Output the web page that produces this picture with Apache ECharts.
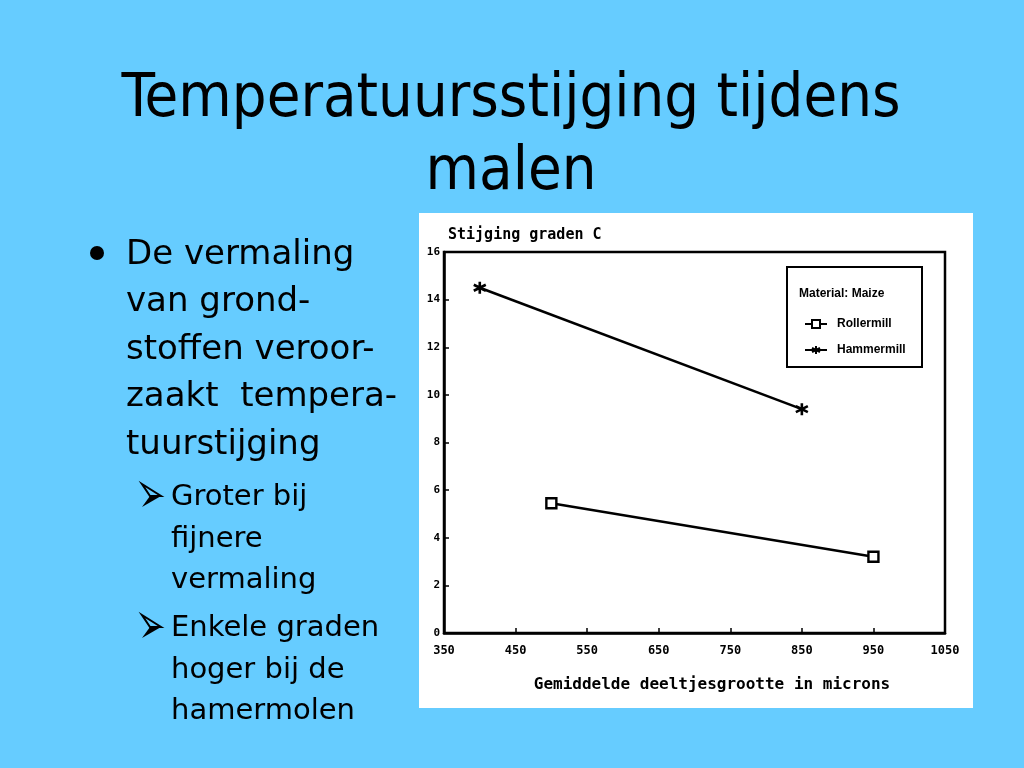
<!DOCTYPE html>
<html><head><meta charset="utf-8">
<script src="https://cdn.jsdelivr.net/npm/echarts@6/dist/echarts.min.js"></script>
<style>html,body{margin:0;padding:0;background:#66CCFF}#c{width:1024px;height:768px}</style>
</head><body><div id="c"></div>
<script>
// ---- data ----
const titleLines = ['Temperatuursstijging tijdens', 'malen'];
const bulletLines = ['De vermaling', 'van grond-', 'stoffen veroor-', 'zaakt  tempera-', 'tuurstijging'];
const sub1Lines = ['Groter bij', 'fijnere', 'vermaling'];
const sub2Lines = ['Enkele graden', 'hoger bij de', 'hamermolen'];
const yAxisTitle = 'Stijging graden C';
const xAxisTitle = 'Gemiddelde deeltjesgrootte in microns';
const legendTitle = 'Material: Maize';
const seriesNames = ['Rollermill', 'Hammermill'];
const xRange = [350, 1050, 100];   // min, max, step
const yRange = [0, 16, 2];
const rollerX = [500, 950];
const rollerY = [5.45, 3.2];
const hammerX = [400, 850];
const hammerY = [14.5, 9.4];

const zip = (a, b) => a.map((v, i) => [v, b[i]]);
const mono = '"DejaVu Sans Mono", monospace';

function arrowBullet(cy) {
  const x0 = 142, tip = 161, notch = 150;
  return [
    {type: 'polygon', silent: true, shape: {points: [[x0, cy + 11], [tip, cy], [notch, cy]]}, style: {fill: '#000'}},
    {type: 'polygon', silent: true, shape: {points: [[x0, cy - 12], [tip, cy], [notch, cy]]}, style: {fill: 'none', stroke: '#000', lineWidth: 2, lineJoin: 'miter'}}
  ];
}

const chart = echarts.init(document.getElementById('c'), null, {renderer: 'canvas'});
const axisCommon = {
  axisLine: {show: true, onZero: false, lineStyle: {color: '#000', width: 2.5}},
  axisTick: {show: true, inside: true, length: 5, lineStyle: {color: '#000', width: 1.5}},
  splitLine: {show: false}
};
chart.setOption({
  animation: false,
  backgroundColor: '#66CCFF',
  grid: {left: 444, top: 252, width: 501, height: 381, show: true, borderColor: '#000', borderWidth: 2.5, backgroundColor: '#fff'},
  xAxis: Object.assign({
    type: 'value', min: xRange[0], max: xRange[1], interval: xRange[2],
    axisLabel: {color: '#000', fontFamily: mono, fontWeight: 'bold', fontSize: 12, margin: 12, showMinLabel: true, showMaxLabel: true, formatter: v => String(v)}
  }, axisCommon),
  yAxis: Object.assign({
    type: 'value', min: yRange[0], max: yRange[1], interval: yRange[2],
    axisLabel: {color: '#000', fontFamily: mono, fontWeight: 'bold', fontSize: 11, margin: 4, formatter: v => String(v)}
  }, axisCommon),
  legend: {
    data: seriesNames, orient: 'vertical', left: 799, top: 313,
    itemWidth: 22, itemHeight: 10, itemGap: 14,
    textStyle: {fontFamily: '"Liberation Sans", Arial', fontWeight: 'bold', fontSize: 12, color: '#000', padding: [0, 0, 0, 5]}
  },
  series: [
    {
      name: seriesNames[0], type: 'line', data: zip(rollerX, rollerY),
      symbol: 'rect', symbolSize: 10,
      lineStyle: {color: '#000', width: 2.5},
      itemStyle: {color: '#fff', borderColor: '#000', borderWidth: 2.4}
    },
    {
      name: seriesNames[1], type: 'line', data: zip(hammerX, hammerY),
      symbol: 'path://M5,0L5,10M0.67,2.5L9.33,7.5M0.67,7.5L9.33,2.5', symbolSize: 12,
      lineStyle: {color: '#000', width: 2.5},
      itemStyle: {color: '#000', borderColor: '#000', borderWidth: 2.6}
    }
  ],
  graphic: [
    {type: 'rect', z: -100, silent: true, shape: {x: 419, y: 213, width: 554, height: 495}, style: {fill: '#fff'}},
    {type: 'text', silent: true, style: {text: titleLines.join('\n'), x: 511, y: 64, align: 'center', verticalAlign: 'top', lineHeight: 72.5, font: '61px "DejaVu Sans Condensed", "DejaVu Sans"', fill: '#000'}},
    {type: 'circle', silent: true, shape: {cx: 97, cy: 253, r: 7}, style: {fill: '#000'}},
    {type: 'text', silent: true, style: {text: bulletLines.join('\n'), x: 126, y: 231.1, verticalAlign: 'top', lineHeight: 47.5, font: '34px "DejaVu Sans"', fill: '#000'}},
    ...arrowBullet(496),
    {type: 'text', silent: true, style: {text: sub1Lines.join('\n'), x: 171, y: 476.5, verticalAlign: 'top', lineHeight: 41.7, font: '29px "DejaVu Sans"', fill: '#000'}},
    ...arrowBullet(627),
    {type: 'text', silent: true, style: {text: sub2Lines.join('\n'), x: 171, y: 607.5, verticalAlign: 'top', lineHeight: 41.7, font: '29px "DejaVu Sans"', fill: '#000'}},
    {type: 'text', silent: true, style: {text: yAxisTitle, x: 448, y: 235, verticalAlign: 'middle', font: 'bold 15px ' + mono, fill: '#000'}},
    {type: 'text', silent: true, style: {text: xAxisTitle, x: 712, y: 685, align: 'center', verticalAlign: 'middle', font: 'bold 16px ' + mono, fill: '#000'}},
    {type: 'rect', silent: true, z: 1, shape: {x: 787, y: 267, width: 135, height: 100}, style: {fill: 'none', stroke: '#000', lineWidth: 2}},
    {type: 'text', silent: true, style: {text: legendTitle, x: 799, y: 294, verticalAlign: 'middle', font: 'bold 12px "Liberation Sans", Arial', fill: '#000'}}
  ]
});
</script>
</body></html>
